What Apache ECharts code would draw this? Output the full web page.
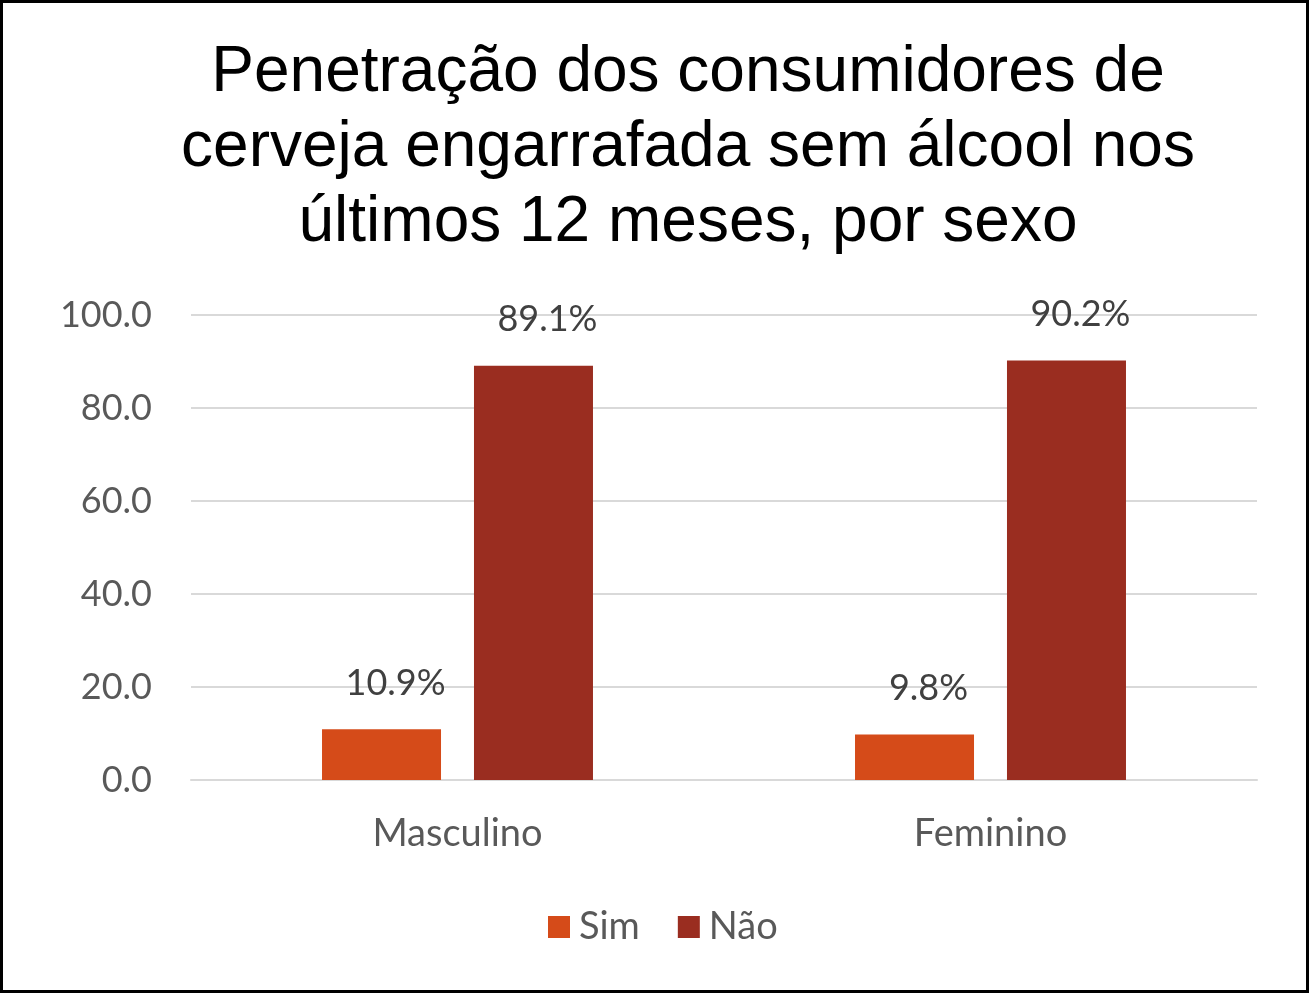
<!DOCTYPE html>
<html>
<head>
<meta charset="utf-8">
<script src="https://cdn.jsdelivr.net/npm/echarts@6/dist/echarts.min.js"></script>
<style>
html,body{margin:0;padding:0;background:#fff;}
#c{width:1310px;height:993px;}
</style>
</head>
<body>
<div id="c"></div>
<script>
const categories = ['Masculino', 'Feminino'];
const simValues = [10.9, 9.8];
const naoValues = [89.1, 90.2];
const seriesNames = ['Sim', 'Não'];
const titleText = 'Penetração dos consumidores de\ncerveja engarrafada sem álcool nos\núltimos 12 meses, por sexo';

const chart = echarts.init(document.getElementById('c'));
const labelStyle = {
  show: true,
  position: 'top',
  distance: 28,
  offset: [14, 0],
  color: '#404040',
  fontFamily: 'Lato',
  fontSize: 36,
  lineHeight: 36,
  formatter: p => p.value.toFixed(1) + '%'
};
chart.setOption({
  animation: false,
  backgroundColor: '#fff',
  title: {
    text: titleText,
    left: 683,
    top: 31,
    textAlign: 'center',
    textStyle: {
      fontFamily: 'Liberation Sans',
      fontWeight: 'normal',
      fontSize: 64,
      lineHeight: 75,
      color: '#000'
    }
  },
  legend: {
    data: seriesNames,
    bottom: 42,
    left: 543,
    itemWidth: 22,
    itemHeight: 22,
    itemGap: 38,
    icon: 'rect',
    textStyle: { fontFamily: 'Lato', fontSize: 38, color: '#595959', padding: [0, 0, 0, 4] }
  },
  grid: { left: 191, right: 53, top: 315, bottom: 213, containLabel: false },
  xAxis: {
    type: 'category',
    data: categories,
    axisTick: { show: false },
    axisLine: { lineStyle: { color: '#D9D9D9', width: 2 } },
    axisLabel: { fontFamily: 'Lato', fontSize: 38, color: '#595959', margin: 35 }
  },
  yAxis: {
    type: 'value',
    min: 0,
    max: 100,
    interval: 20,
    axisLabel: { fontFamily: 'Lato', fontSize: 36, color: '#595959', margin: 39, formatter: v => v.toFixed(1) },
    splitLine: { lineStyle: { color: '#D9D9D9', width: 2 } },
    axisLine: { show: false },
    axisTick: { show: false }
  },
  series: [
    { name: seriesNames[0], type: 'bar', data: simValues, barWidth: 119, barGap: '27.7%', itemStyle: { color: '#D54B19' }, label: labelStyle },
    { name: seriesNames[1], type: 'bar', data: naoValues, barWidth: 119, barGap: '27.7%', itemStyle: { color: '#9A2D20' }, label: labelStyle }
  ],
  graphic: [{
    type: 'rect',
    shape: { x: 1.5, y: 1.5, width: 1306, height: 990 },
    style: { fill: 'none', stroke: '#000', lineWidth: 3 },
    silent: true
  }]
});
</script>
</body>
</html>
